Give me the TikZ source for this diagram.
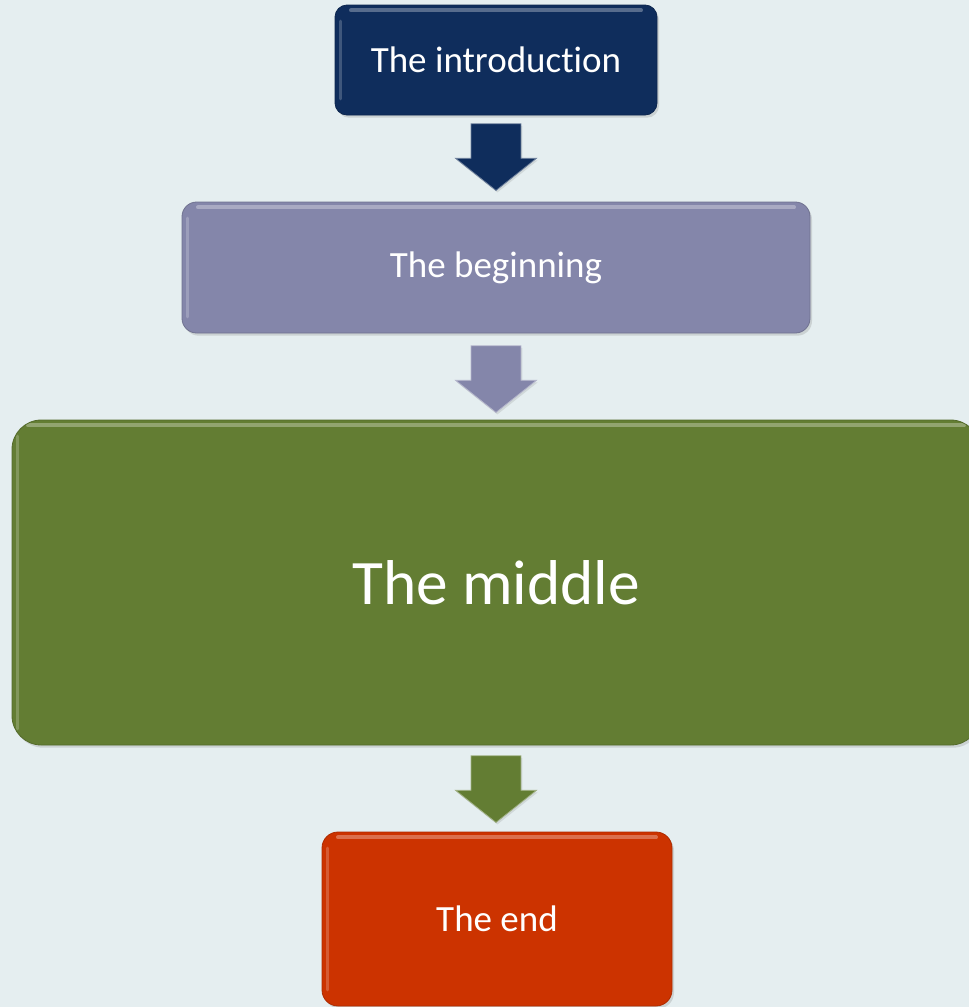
\documentclass[tikz,border=0pt]{standalone}
\usepackage{fontspec}
\setmainfont{Carlito}[Ligatures=NoCommon]
\usetikzlibrary{shapes.arrows,shadows,calc}

\definecolor{bgblue}{HTML}{E5EEF0}
\definecolor{introblue}{HTML}{0F2D5C}
\definecolor{beginlilac}{HTML}{8486AA}
\definecolor{middlegreen}{HTML}{637D33}
\definecolor{endorange}{HTML}{CC3300}

\tikzset{
    stagebox/.style={draw=#1!85!black, fill=#1, text=white, inner sep=0pt,
        rounded corners=9pt, line width=0.6pt,
        drop shadow={opacity=0.25, shadow xshift=1.5pt, shadow yshift=-2pt},
        path picture={
            \draw[white, opacity=0.3, line width=3pt, line cap=round]
                ([xshift=12pt,yshift=-4pt]path picture bounding box.north west) --
                ([xshift=-12pt,yshift=-4pt]path picture bounding box.north east);
            \draw[white, opacity=0.2, line width=2pt, line cap=round]
                ([xshift=4pt,yshift=-12pt]path picture bounding box.north west) --
                ([xshift=4pt,yshift=12pt]path picture bounding box.south west);
        }},
    flowarrow/.style={single arrow, rotate=-90, anchor=tail, inner xsep=0pt, inner ysep=18.4pt,
        minimum height=50pt,
        single arrow head extend=11.6pt, single arrow tip angle=103,
        fill=#1, draw=#1!60!white, line width=0.6pt,
        drop shadow={opacity=0.2, shadow xshift=1pt, shadow yshift=-1.5pt}},
    smalltext/.style={font=\fontsize{27.75pt}{33pt}\selectfont},
    bigtext/.style={font=\fontsize{47.5pt}{56pt}\selectfont}
}

\begin{document}
\begin{tikzpicture}[x=0.75pt, y=-0.75pt]
    % Page and background
    \useasboundingbox (0,0) rectangle (969,1007);
    \fill[bgblue] (0,0) rectangle (969,1007);
    \clip (0,0) rectangle (969,1007);

    % The four stages
    \node[stagebox=introblue, smalltext, minimum width=241.5pt, minimum height=82.5pt] (intro) at (496,60) {The introduction};
    \node[stagebox=beginlilac, smalltext, rounded corners=11pt, minimum width=471pt, minimum height=98.25pt] (begin) at (496,267.5) {The beginning};
    \node[stagebox=middlegreen, bigtext, rounded corners=22pt, minimum width=726pt, minimum height=243.75pt] (middle) at (496,582.5) {The middle};
    \node[stagebox=endorange, smalltext, rounded corners=12pt, minimum width=262.5pt, minimum height=130.5pt] (end) at (497,919) {The end};

    % Block arrows between the stages
    \node[flowarrow=introblue] (arrowA) at ([yshift=-6pt]intro.south) {};
    \node[flowarrow=beginlilac] (arrowB) at ([yshift=-9pt]begin.south) {};
    \node[flowarrow=middlegreen] (arrowC) at ([yshift=-7.5pt]middle.south) {};
\end{tikzpicture}
\end{document}
